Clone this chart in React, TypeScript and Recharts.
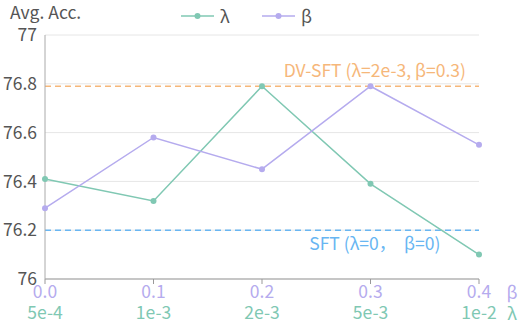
import React from 'react';
import { LineChart, Line, XAxis, YAxis, CartesianGrid, ReferenceLine } from 'recharts';

const betaLabels = ['0.0', '0.1', '0.2', '0.3', '0.4'];
const lambdaLabels = ['5e-4', '1e-3', '2e-3', '5e-3', '1e-2'];
const lambdaValues = [76.41, 76.32, 76.79, 76.39, 76.1];
const betaValues = [76.29, 76.58, 76.45, 76.79, 76.55];
const yTicks = [76, 76.2, 76.4, 76.6, 76.8, 77];
const dvSftValue = 76.79;
const sftValue = 76.2;

const TEAL = '#80c8b3';
const PURPLE = '#b5abee';
const ORANGE = '#f6b77a';
const BLUE = '#68b6f2';
const TEXT = '#555555';
const FONT = "'Noto Sans CJK SC', 'Noto Sans', sans-serif";
const FS = 17.5;

const data = betaLabels.map((b, i) => ({
  cat: i,
  lambda: lambdaValues[i],
  beta: betaValues[i],
}));

const series = [
  { key: 'lambda', name: 'λ', color: TEAL },
  { key: 'beta', name: 'β', color: PURPLE },
];

const XTick = (props: any) => {
  const { x, y, payload } = props;
  const i = payload.index ?? payload.value;
  return (
    <text x={x} y={y + 12} textAnchor="middle" fontSize={FS} fontFamily={FONT}>
      <tspan x={x} fill={PURPLE}>{betaLabels[i]}</tspan>
      <tspan x={x} dy={21} fill={TEAL}>{lambdaLabels[i]}</tspan>
    </text>
  );
};

const XAxisLabel = (props: any) => {
  const { viewBox } = props;
  const x = viewBox.x + viewBox.width + 33;
  const y = viewBox.y;
  return (
    <text x={x} y={y + 20} textAnchor="middle" fontSize={FS} fontFamily={FONT}>
      <tspan x={x} fill={PURPLE}>β</tspan>
      <tspan x={x} dy={21} fill={TEAL}>λ</tspan>
    </text>
  );
};

const RefLabel = (text: string, color: string, dy: number) => (props: any) => {
  const { viewBox } = props;
  return (
    <text
      x={viewBox.x + viewBox.width * 0.76}
      y={viewBox.y + dy}
      textAnchor="middle"
      fill={color}
      fontSize={FS}
      fontFamily={FONT}
      style={{ whiteSpace: 'pre' }}
    >
      {text}
    </text>
  );
};

export default function App() {
  return (
    <div style={{ position: 'absolute', left: 0, top: 0, width: 519, height: 324, fontFamily: FONT }}>
      <LineChart width={519} height={324} data={data} margin={{ top: 35, right: 40, bottom: 0, left: 0 }}>
        <CartesianGrid vertical={false} stroke="#e6e6e6" />
        <XAxis
          dataKey="cat"
          height={45}
          interval={0}
          stroke="#999"
          tickLine={{ stroke: '#999' }}
          tickSize={5}
          tickMargin={2}
          tick={<XTick />}
          label={<XAxisLabel />}
        />
        <YAxis
          width={45}
          domain={[76, 77]}
          ticks={yTicks}
          stroke="#aaa"
          tickLine={false}
          tick={{ fill: TEXT, fontSize: FS, fontFamily: FONT }}
        />
        <ReferenceLine
          y={dvSftValue}
          stroke={ORANGE}
          strokeWidth={1.5}
          strokeDasharray="6 4"
          label={RefLabel('DV-SFT (λ=2e-3, β=0.3)', ORANGE, -9)}
        />
        <ReferenceLine
          y={sftValue}
          stroke={BLUE}
          strokeWidth={1.5}
          strokeDasharray="6 4"
          label={RefLabel('SFT (λ=0，  β=0)', BLUE, 20)}
        />
        {series.map((s) => (
          <Line
            key={s.key}
            dataKey={s.key}
            name={s.name}
            stroke={s.color}
            strokeWidth={1.5}
            dot={{ r: 3, fill: s.color, stroke: s.color, strokeWidth: 0 }}
            isAnimationActive={false}
          />
        ))}
      </LineChart>
      <div
        style={{ position: 'absolute', left: 10, top: 3, fontSize: FS, color: TEXT, fontFamily: FONT, lineHeight: '18px' }}
      >
        Avg. Acc.
      </div>
      {series.map((s, i) => (
        <div
          key={s.key}
          style={{
            position: 'absolute',
            left: 181 + i * 81,
            top: 6,
            display: 'flex',
            alignItems: 'center',
            fontSize: FS,
            color: TEXT,
            fontFamily: FONT,
            lineHeight: '20px',
          }}
        >
          <svg width={33} height={10} style={{ marginRight: 6 }}>
            <line x1={0} y1={5} x2={33} y2={5} stroke={s.color} strokeWidth={1.5} />
            <circle cx={16.5} cy={5} r={3} fill={s.color} />
          </svg>
          <span>{s.name}</span>
        </div>
      ))}
    </div>
  );
}
